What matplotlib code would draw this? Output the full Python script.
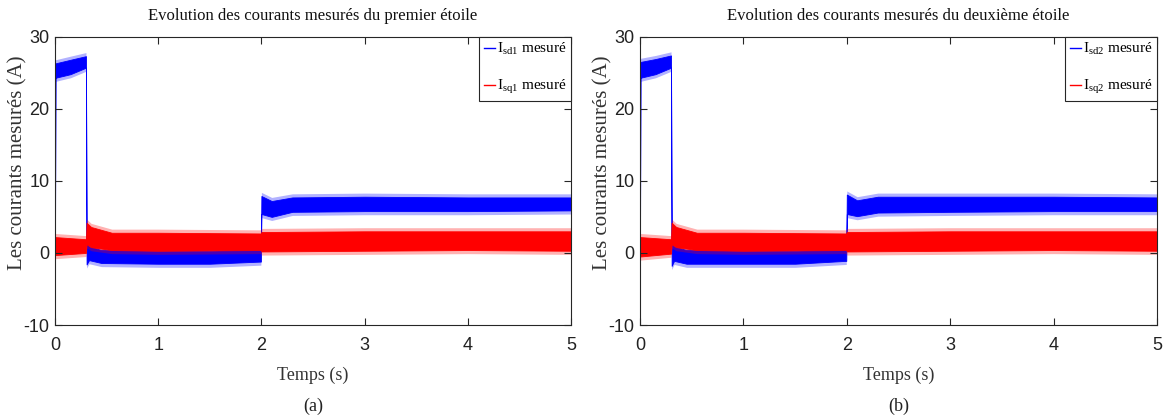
import matplotlib
matplotlib.use("Agg")
import matplotlib.pyplot as plt
from matplotlib import font_manager

# ---- data: measured d/q currents, noise envelope (lower / upper bound) ----
# star 1
t_sd1 = [0.000, 0.004, 0.15, 0.300, 0.306, 0.33, 0.45, 1.00, 1.50, 1.995, 2.000, 2.10, 2.30, 3.00, 4.00, 5.00]
lo_sd1 = [0.0, 24.3, 24.8, 25.7, -1.6, -1.0, -1.4, -1.5, -1.5, -1.2, 5.4, 5.0, 5.7, 5.8, 5.8, 5.9]
hi_sd1 = [2.5, 26.3, 26.8, 27.3, 1.4, 0.9, 0.4, 0.3, 0.3, 0.5, 7.9, 7.2, 7.7, 7.8, 7.7, 7.7]

t_sq1 = [0.000, 0.300, 0.306, 0.35, 0.55, 1.00, 1.995, 2.000, 3.00, 4.00, 5.00]
lo_sq1 = [-0.3, 0.0, 1.2, 0.8, 0.4, 0.3, 0.4, 0.2, 0.3, 0.4, 0.3]
hi_sq1 = [2.2, 1.9, 4.2, 3.6, 2.8, 2.8, 2.7, 2.9, 3.0, 3.0, 3.0]

# star 2
t_sd2 = [0.000, 0.004, 0.15, 0.300, 0.306, 0.33, 0.45, 1.00, 1.50, 1.995, 2.000, 2.10, 2.30, 3.00, 4.00, 5.00]
lo_sd2 = [0.0, 24.3, 24.8, 25.7, -1.8, -1.1, -1.5, -1.5, -1.5, -1.1, 5.4, 5.1, 5.6, 5.7, 5.8, 5.8]
hi_sd2 = [2.5, 26.5, 26.9, 27.4, 1.4, 0.9, 0.4, 0.3, 0.3, 0.5, 8.1, 7.3, 7.8, 7.8, 7.8, 7.7]

t_sq2 = [0.000, 0.300, 0.306, 0.35, 0.55, 1.00, 1.995, 2.000, 3.00, 4.00, 5.00]
lo_sq2 = [-0.5, -0.1, 1.2, 0.8, 0.4, 0.3, 0.4, 0.2, 0.3, 0.4, 0.3]
hi_sq2 = [2.2, 1.9, 4.2, 3.6, 2.8, 2.8, 2.7, 2.9, 3.0, 3.0, 3.0]

# peak excursion of the measurement noise beyond the dense band (A)
spike = 0.5

titles = ["Evolution des courants mesurés du premier étoile",
          "Evolution des courants mesurés du deuxième étoile"]
legend_d = [r"I$_{\mathregular{sd1}}$ mesuré", r"I$_{\mathregular{sd2}}$ mesuré"]
legend_q = [r"I$_{\mathregular{sq1}}$ mesuré", r"I$_{\mathregular{sq2}}$ mesuré"]
captions = ["(a)", "(b)"]
x_ticks = [0, 1, 2, 3, 4, 5]
y_ticks = [-10, 0, 10, 20, 30]

# ---- fonts ----
available = {f.name for f in font_manager.fontManager.ttflist}
narrow = "Liberation Sans Narrow" if "Liberation Sans Narrow" in available else "Liberation Sans"
serif = "Liberation Serif"
plt.rcParams["mathtext.fontset"] = "custom"
plt.rcParams["mathtext.rm"] = serif
plt.rcParams["mathtext.default"] = "regular"
plt.rcParams["axes.unicode_minus"] = False

fig = plt.figure(figsize=(11.68, 4.18), dpi=100)
ax_pos = [[55 / 1168, 1 - 325 / 418, 516 / 1168, (325 - 36.7) / 418],
          [640 / 1168, 1 - 325 / 418, 517 / 1168, (325 - 36.7) / 418]]

series = [
    (t_sd1, lo_sd1, hi_sd1, t_sq1, lo_sq1, hi_sq1),
    (t_sd2, lo_sd2, hi_sd2, t_sq2, lo_sq2, hi_sq2),
]

axis_col = "#262626"
blue, red = "#0000ff", "#ff0000"
for i, (td, ld, hd, tq, lq, hq) in enumerate(series):
    ax = fig.add_axes(ax_pos[i])
    # noise peaks (translucent halo) and dense band
    ax.fill_between(td, [v - spike for v in ld], [v + spike for v in hd],
                    color=blue, alpha=0.3, lw=0)
    ax.fill_between(td, ld, hd, color=blue, lw=0.6, edgecolor=blue)
    ax.fill_between(tq, [v - spike for v in lq], [v + spike for v in hq],
                    color=red, alpha=0.3, lw=0)
    ax.fill_between(tq, lq, hq, color=red, lw=0.6, edgecolor=red)
    # legend handles
    hd_line, = ax.plot([], [], color=blue, lw=1.0)
    hq_line, = ax.plot([], [], color=red, lw=1.0)

    ax.set_xlim(0, 5)
    ax.set_ylim(-10, 30)
    ax.set_xticks(x_ticks)
    ax.set_yticks(y_ticks)
    ax.tick_params(direction="in", top=True, right=True, length=5, width=0.8,
                   colors=axis_col, labelsize=13)
    ax.tick_params(axis="x", pad=9)
    ax.tick_params(axis="y", pad=4)
    for lab in ax.get_xticklabels() + ax.get_yticklabels():
        lab.set_fontfamily(narrow)
        lab.set_color("#222222")
    for sp in ax.spines.values():
        sp.set_color(axis_col)
        sp.set_linewidth(0.8)

    ax.set_title(titles[i], family=serif, fontsize=12, pad=12, color="#111111")
    ax.set_ylabel("Les courants mesurés (A)", family=serif, fontsize=15,
                  color="#333333")
    ax.yaxis.set_label_coords(-0.054, 0.5625)
    ax.set_xlabel("Temps (s)", family=serif, fontsize=13, color="#333333")
    ax.xaxis.set_label_coords(0.5, -0.145)

    leg = ax.legend([hd_line, hq_line], [legend_d[i], legend_q[i]], loc="upper right",
                    borderaxespad=0, prop={"family": serif, "size": 11},
                    handlelength=0.75, handletextpad=0.1, labelspacing=1.35,
                    borderpad=0.3, fancybox=False, framealpha=1)
    leg.get_frame().set_edgecolor(axis_col)
    leg.get_frame().set_linewidth(0.8)

    cx = ax_pos[i][0] + ax_pos[i][2] / 2
    fig.text(cx, 1 - 406 / 418, captions[i], family=serif, fontsize=13,
             ha="center", va="center", color="#222222")

fig.savefig("out.png", dpi=100)
